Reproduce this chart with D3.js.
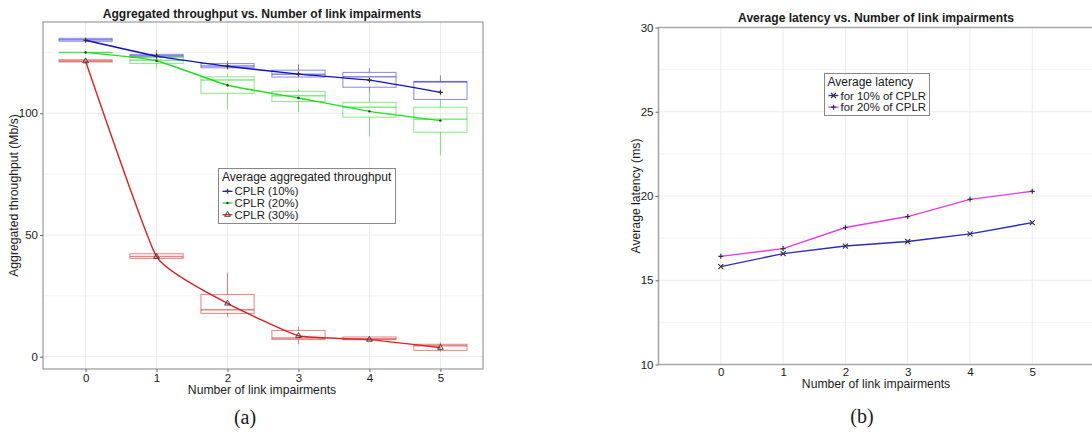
<!DOCTYPE html>
<html><head><meta charset="utf-8">
<script src="https://cdn.jsdelivr.net/npm/d3@7"></script>
<style>
body{margin:0;background:#fff;}
text{font-family:"Liberation Sans",Arial,sans-serif;fill:#1a1a1a;}
</style></head>
<body><svg id="c" width="1092" height="432"></svg>
<script>
// ---------- DATA ----------
const impairments = [0, 1, 2, 3, 4, 5];
const seriesNames = ["CPLR (10%)", "CPLR (20%)", "CPLR (30%)"];
// mean throughput (Mb/s)
const mean10 = [130.0, 123.5, 119.3, 116.1, 113.6, 108.6];
const mean20 = [125.0, 121.6, 111.5, 106.3, 100.8, 97.0];
const mean30 = [121.4, 41.1, 21.9, 8.6, 7.0, 3.7];
// box stats: lower whisker, q1, median, q3, upper whisker
const lo10 = [129.6, 122.8, 117.9, 114.9, 109.0, 105.7];
const q1_10 = [129.6, 123.1, 118.7, 114.9, 110.7, 105.7];
const med10 = [130.2, 123.6, 119.4, 116.0, 115.0, 112.9];
const q3_10 = [130.8, 124.2, 120.4, 117.7, 116.8, 113.1];
const hi10 = [130.8, 126.0, 121.5, 120.1, 118.5, 115.6];
const lo20 = [125.0, 118.5, 101.6, 100.4, 90.5, 82.7];
const q1_20 = [125.0, 120.5, 108.2, 104.8, 98.4, 92.2];
const med20 = [125.0, 121.8, 113.7, 107.2, 102.5, 97.5];
const q3_20 = [125.0, 123.2, 115.0, 109.0, 104.5, 102.5];
const hi20 = [125.0, 124.0, 116.1, 110.0, 109.5, 105.7];
const lo30 = [121.1, 40.4, 16.4, 5.1, 7.0, 2.1];
const q1_30 = [121.1, 40.4, 17.8, 7.1, 7.0, 2.6];
const med30 = [121.5, 41.2, 19.3, 7.7, 7.4, 4.5];
const q3_30 = [122.0, 42.3, 25.6, 10.8, 8.1, 5.1];
const hi30 = [122.0, 42.3, 34.5, 12.3, 8.1, 5.9];
const yTicksA = [0, 50, 100];
const yMinorA = [25, 75, 125];
// latency (ms)
const latNames = ["for 10% of CPLR", "for 20% of CPLR"];
const lat10 = [15.81, 16.58, 17.03, 17.30, 17.75, 18.42];
const lat20 = [16.42, 16.88, 18.13, 18.78, 19.80, 20.28];
const yTicksB = [10, 15, 20, 25, 30];
const yMinorB = [12.5, 17.5, 22.5, 27.5];

const FT = 11.5, FL = 12.2, FTI = 12.1, FLG = 12, FLI = 11.4;

// ---------- PANEL A ----------
const svg = d3.select("#c");
const A = {l: 43, r: 483, t: 22, b: 369};
const xA = d3.scaleLinear().domain([-0.6, 5.6]).range([A.l, A.r]);
const yA = d3.scaleLinear().domain([-5.05, 137.5]).range([A.b, A.t]);
const gA = svg.append("g");

gA.selectAll("line.ymin").data(yMinorA).join("line")
  .attr("x1", A.l).attr("x2", A.r).attr("y1", d => yA(d)).attr("y2", d => yA(d))
  .attr("stroke", "#f4f4f4").attr("stroke-width", 1);
gA.selectAll("line.ymaj").data(yTicksA).join("line")
  .attr("x1", A.l).attr("x2", A.r).attr("y1", d => yA(d)).attr("y2", d => yA(d))
  .attr("stroke", "#ebebeb").attr("stroke-width", 1);
gA.selectAll("line.xmaj").data(impairments).join("line")
  .attr("x1", d => xA(d)).attr("x2", d => xA(d)).attr("y1", A.t).attr("y2", A.b)
  .attr("stroke", "#ebebeb").attr("stroke-width", 1);

const boxSeries = [
  {lo: lo10, q1: q1_10, med: med10, q3: q3_10, hi: hi10, mean: mean10, box: "rgba(40,40,200,0.55)", line: "#1010c8", mk: "plus"},
  {lo: lo20, q1: q1_20, med: med20, q3: q3_20, hi: hi20, mean: mean20, box: "rgba(40,210,40,0.55)", line: "#22dd22", mk: "dot"},
  {lo: lo30, q1: q1_30, med: med30, q3: q3_30, hi: hi30, mean: mean30, box: "rgba(210,30,30,0.55)", line: "#dd2222", mk: "tri"}
];
const bw = xA(0.375) - xA(0);

function marker(g, type, x, y, color) {
  if (type === "plus") {
    g.append("path").attr("d", `M${x-2.5},${y}H${x+2.5}M${x},${y-2.5}V${y+2.5}`)
      .attr("stroke", color).attr("stroke-width", 1.2).attr("fill", "none");
  } else if (type === "dot") {
    g.append("circle").attr("cx", x).attr("cy", y).attr("r", 1.2).attr("fill", color);
  } else if (type === "tri") {
    g.append("path").attr("d", d3.symbol(d3.symbolTriangle, 14)())
      .attr("transform", `translate(${x},${y})`).attr("fill", "none")
      .attr("stroke", color).attr("stroke-width", 0.9);
  } else if (type === "x") {
    g.append("path").attr("d", `M${x-2.5},${y-2.5}L${x+2.5},${y+2.5}M${x-2.5},${y+2.5}L${x+2.5},${y-2.5}`)
      .attr("stroke", color).attr("stroke-width", 1.1).attr("fill", "none");
  }
}

boxSeries.forEach(s => {
  const g = gA.append("g");
  impairments.forEach((x, i) => {
    const cx = xA(x);
    g.append("line").attr("x1", cx).attr("x2", cx).attr("y1", yA(s.hi[i])).attr("y2", yA(s.q3[i]))
      .attr("stroke", s.box).attr("stroke-width", 1);
    g.append("line").attr("x1", cx).attr("x2", cx).attr("y1", yA(s.q1[i])).attr("y2", yA(s.lo[i]))
      .attr("stroke", s.box).attr("stroke-width", 1);
    g.append("rect").attr("x", cx - bw).attr("width", 2 * bw)
      .attr("y", yA(s.q3[i])).attr("height", Math.max(0.01, yA(s.q1[i]) - yA(s.q3[i])))
      .attr("fill", "none").attr("stroke", s.box).attr("stroke-width", 1);
    g.append("line").attr("x1", cx - bw).attr("x2", cx + bw).attr("y1", yA(s.med[i])).attr("y2", yA(s.med[i]))
      .attr("stroke", s.box).attr("stroke-width", 1.5);
  });
});
boxSeries.forEach(s => {
  const line = d3.line().x((d, i) => xA(impairments[i])).y(d => yA(d)).curve(d3.curveCardinal.tension(0.6));
  gA.append("path").datum(s.mean).attr("d", line).attr("fill", "none")
    .attr("stroke", s.line).attr("stroke-width", 1.4);
  s.mean.forEach((v, i) => marker(gA, s.mk, xA(impairments[i]), yA(v), "#333"));
});

// border
gA.append("rect").attr("x", A.l).attr("y", A.t).attr("width", A.r - A.l).attr("height", A.b - A.t)
  .attr("fill", "none").attr("stroke", "#9a9a9a").attr("stroke-width", 1.2);

// axes
const axA = d3.axisLeft(yA).tickValues(yTicksA).tickSize(3).tickPadding(2);
const gyA = gA.append("g").attr("transform", `translate(${A.l},0)`).call(axA);
gyA.select(".domain").remove();
gyA.selectAll("line").attr("stroke", "#666");
gyA.selectAll("text").attr("font-size", FT).attr("fill", "#333");
const axXA = d3.axisBottom(xA).tickValues(impairments).tickFormat(d3.format("d")).tickSize(3).tickPadding(1.5);
const gxA = gA.append("g").attr("transform", `translate(0,${A.b})`).call(axXA);
gxA.select(".domain").remove();
gxA.selectAll("line").attr("stroke", "#666");
gxA.selectAll("text").attr("font-size", FT).attr("fill", "#333");

gA.append("text").attr("x", (A.l + A.r) / 2 - 1).attr("y", 17.5).attr("text-anchor", "middle")
  .attr("font-weight", "bold").attr("font-size", FTI).text("Aggregated throughput vs. Number of link impairments");
gA.append("text").attr("x", 262).attr("y", 393.5).attr("text-anchor", "middle")
  .attr("font-size", FL).text("Number of link impairments");
gA.append("text").attr("transform", `translate(17.5,${(A.t + A.b) / 2}) rotate(-90)`).attr("text-anchor", "middle")
  .attr("font-size", FL).text("Aggregated throughput (Mb/s)");
gA.append("text").attr("x", 245).attr("y", 424).attr("text-anchor", "middle")
  .style("font-family", "Liberation Serif, serif").attr("font-size", 20).text("(a)");

// legend A
const LA = {x: 218.5, y: 168.5, w: 177, h: 55};
const lgA = gA.append("g");
lgA.append("rect").attr("x", LA.x).attr("y", LA.y).attr("width", LA.w).attr("height", LA.h)
  .attr("fill", "#fff").attr("stroke", "#888").attr("stroke-width", 1);
lgA.append("text").attr("x", LA.x + 3.5).attr("y", LA.y + 12.8).attr("font-size", FLG)
  .text("Average aggregated throughput");
seriesNames.forEach((n, i) => {
  const yy = LA.y + 22.8 + i * 11.7;
  lgA.append("line").attr("x1", LA.x + 4).attr("x2", LA.x + 14).attr("y1", yy).attr("y2", yy)
    .attr("stroke", boxSeries[i].line).attr("stroke-width", 1.3);
  marker(lgA, boxSeries[i].mk, LA.x + 9, yy, "#333");
  lgA.append("text").attr("x", LA.x + 16).attr("y", yy + 4.1).attr("font-size", FLI).text(n);
});

// ---------- PANEL B ----------
const B = {l: 658.5, t: 27.5, b: 364.5};
const stepB = 62.3;
const xB = d3.scaleLinear().domain([-1, 7]).range([B.l, B.l + 8 * stepB]);
const yB = d3.scaleLinear().domain([10, 30]).range([B.b, B.t]);
const gB = svg.append("g");
const Br = 1092;

gB.selectAll("line.ymin").data(yMinorB).join("line")
  .attr("x1", B.l).attr("x2", Br).attr("y1", d => yB(d)).attr("y2", d => yB(d))
  .attr("stroke", "#f4f4f4");
gB.selectAll("line.ymaj").data(yTicksB).join("line")
  .attr("x1", B.l).attr("x2", Br).attr("y1", d => yB(d)).attr("y2", d => yB(d))
  .attr("stroke", "#ebebeb");
gB.selectAll("line.xmaj").data(impairments).join("line")
  .attr("x1", d => xB(d)).attr("x2", d => xB(d)).attr("y1", B.t).attr("y2", B.b)
  .attr("stroke", "#ebebeb");

const latSeries = [
  {v: lat10, color: "#2a2ac0", mk: "x"},
  {v: lat20, color: "#e040e0", mk: "plus"}
];
latSeries.forEach(s => {
  const line = d3.line().x((d, i) => xB(impairments[i])).y(d => yB(d));
  gB.append("path").datum(s.v).attr("d", line).attr("fill", "none")
    .attr("stroke", s.color).attr("stroke-width", 1.4);
  s.v.forEach((v, i) => marker(gB, s.mk, xB(impairments[i]), yB(v), "#333"));
});

gB.append("path").attr("d", `M${Br},${B.t}H${B.l}V${B.b}H${Br}`)
  .attr("fill", "none").attr("stroke", "#a8a8a8").attr("stroke-width", 1.6);

const axB = d3.axisLeft(yB).tickValues(yTicksB).tickSize(3).tickPadding(2);
const gyB = gB.append("g").attr("transform", `translate(${B.l},0)`).call(axB);
gyB.select(".domain").remove();
gyB.selectAll("line").attr("stroke", "#666");
gyB.selectAll("text").attr("font-size", FT).attr("fill", "#333");
const axXB = d3.axisBottom(xB).tickValues(impairments).tickFormat(d3.format("d")).tickSize(0).tickPadding(3.5);
const gxB = gB.append("g").attr("transform", `translate(0,${B.b})`).call(axXB);
gxB.select(".domain").remove();
gxB.selectAll("text").attr("font-size", FT).attr("fill", "#333");

gB.append("text").attr("x", 876).attr("y", 21.5).attr("text-anchor", "middle")
  .attr("font-weight", "bold").attr("font-size", FTI).text("Average latency vs. Number of link impairments");
gB.append("text").attr("x", 876).attr("y", 388).attr("text-anchor", "middle")
  .attr("font-size", FL).text("Number of link impairments");
gB.append("text").attr("transform", `translate(640,${(B.t + B.b) / 2}) rotate(-90)`).attr("text-anchor", "middle")
  .attr("font-size", FL).text("Average latency (ms)");
gB.append("text").attr("x", 862).attr("y", 423).attr("text-anchor", "middle")
  .style("font-family", "Liberation Serif, serif").attr("font-size", 20).text("(b)");

// legend B
const LB = {x: 824.5, y: 73.5, w: 105, h: 42};
const lgB = gB.append("g");
lgB.append("rect").attr("x", LB.x).attr("y", LB.y).attr("width", LB.w).attr("height", LB.h)
  .attr("fill", "#fff").attr("stroke", "#888").attr("stroke-width", 1);
lgB.append("text").attr("x", LB.x + 3).attr("y", LB.y + 12.3).attr("font-size", FLG).text("Average latency");
latNames.forEach((n, i) => {
  const yy = LB.y + 22 + i * 11.7;
  lgB.append("line").attr("x1", LB.x + 4).attr("x2", LB.x + 14).attr("y1", yy).attr("y2", yy)
    .attr("stroke", latSeries[i].color).attr("stroke-width", 1.3);
  marker(lgB, latSeries[i].mk, LB.x + 9, yy, "#333");
  lgB.append("text").attr("x", LB.x + 16).attr("y", yy + 4.1).attr("font-size", FLI).text(n);
});
</script></body></html>
